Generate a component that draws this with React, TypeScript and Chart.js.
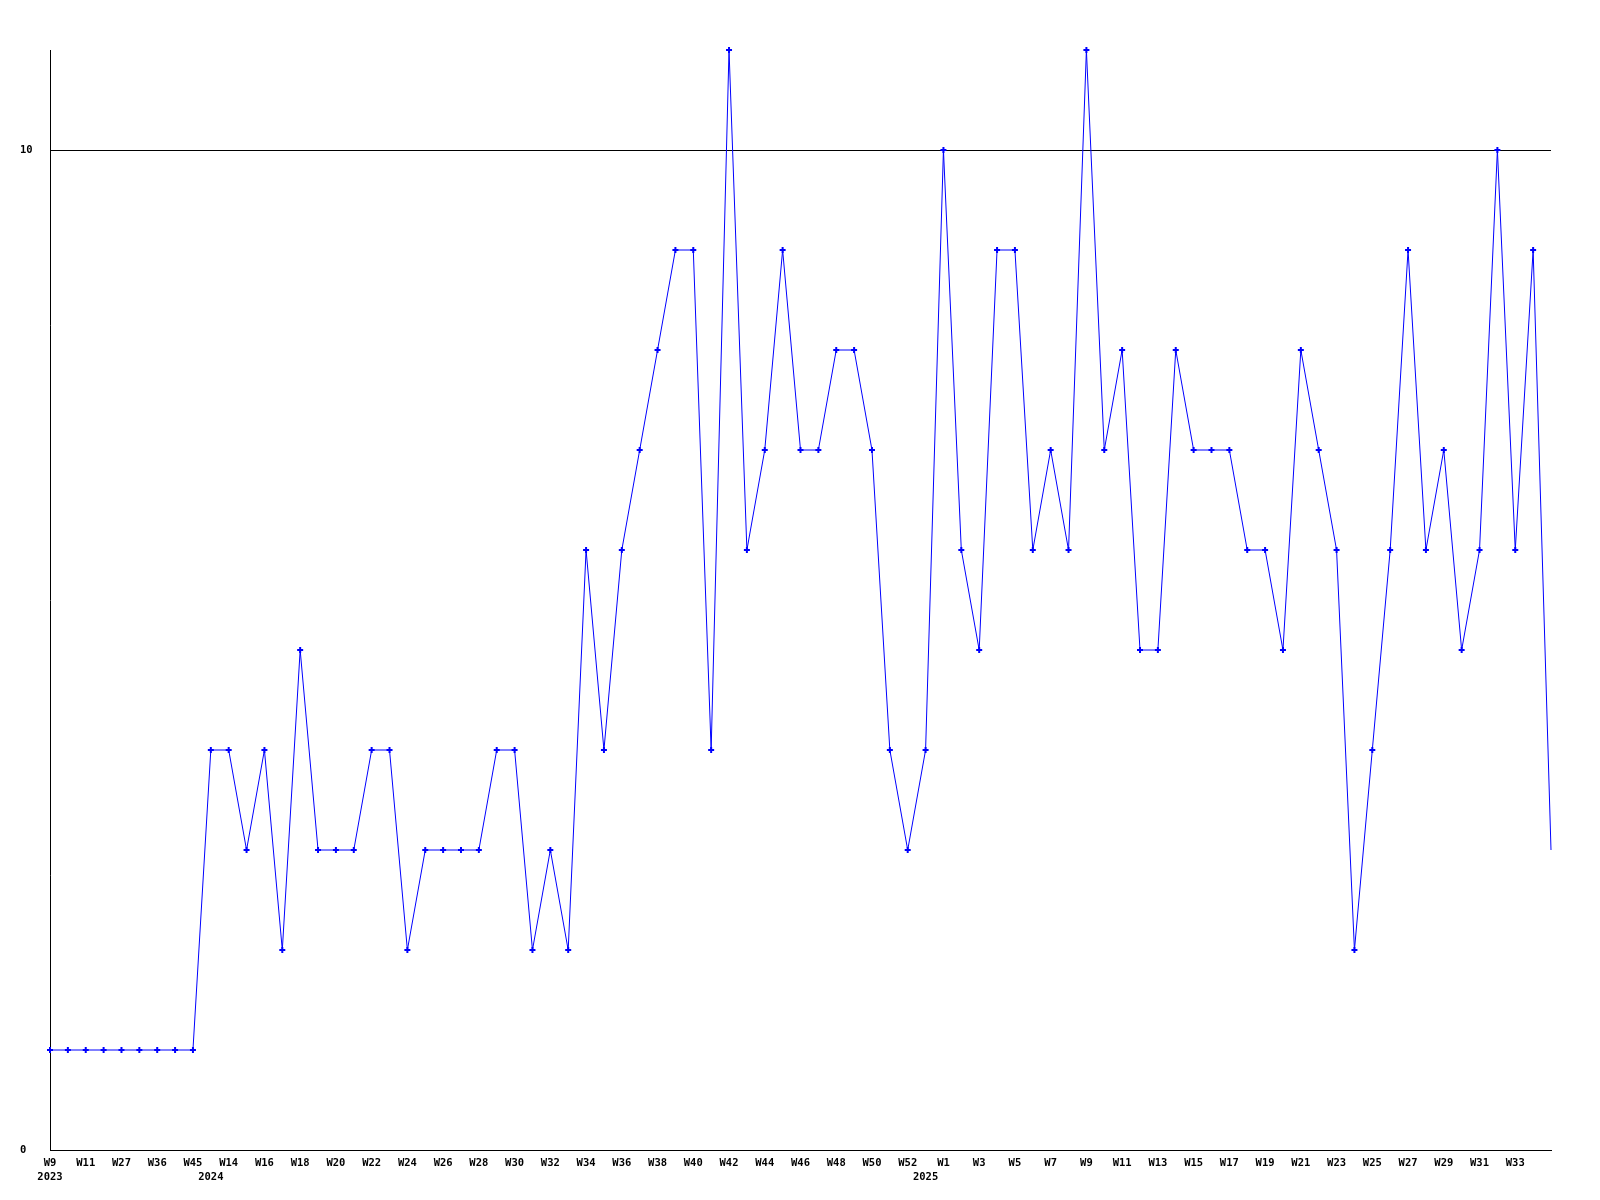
import { useEffect, useRef } from "react";
import { Chart, registerables } from "chart.js";

Chart.register(...registerables);

const weeks: string[] = [
  "W9", "W10", "W11", "W20", "W27", "W30", "W36", "W40", "W45", "W13",
  "W14", "W15", "W16", "W17", "W18", "W19", "W20", "W21", "W22", "W23",
  "W24", "W25", "W26", "W27", "W28", "W29", "W30", "W31", "W32", "W33",
  "W34", "W35", "W36", "W37", "W38", "W39", "W40", "W41", "W42", "W43",
  "W44", "W45", "W46", "W47", "W48", "W49", "W50", "W51", "W52", "W53",
  "W1", "W2", "W3", "W4", "W5", "W6", "W7", "W8", "W9", "W10",
  "W11", "W12", "W13", "W14", "W15", "W16", "W17", "W18", "W19", "W20",
  "W21", "W22", "W23", "W24", "W25", "W26", "W27", "W28", "W29", "W30",
  "W31", "W32", "W33", "W34", "W35",
];

const values: number[] = [
  1, 1, 1, 1, 1, 1, 1, 1, 1, 4,
  4, 3, 4, 2, 5, 3, 3, 3, 4, 4,
  2, 3, 3, 3, 3, 4, 4, 2, 3, 2,
  6, 4, 6, 7, 8, 9, 9, 4, 11, 6,
  7, 9, 7, 7, 8, 8, 7, 4, 3, 4,
  10, 6, 5, 9, 9, 6, 7, 6, 11, 7,
  8, 5, 5, 8, 7, 7, 7, 6, 6, 5,
  8, 7, 6, 2, 4, 6, 9, 6, 7, 5,
  6, 10, 6, 9, 3,
];

// year captions shown on the second tick line, keyed by category index
const yearIndex: number[] = [0, 9, 49];
const yearLabels: string[] = ["2023", "2024", "2025"];

const yTicks: number[] = [0, 10];

const FONT = {
  family: '"DejaVu Sans Mono", "Liberation Mono", monospace',
  size: 10.5,
  weight: "bold" as const,
  lineHeight: "14px",
};

export default function App() {
  const ref = useRef<HTMLCanvasElement>(null);

  useEffect(() => {
    if (!ref.current) return;
    const chart = new Chart(ref.current, {
      type: "line",
      data: {
        labels: weeks,
        datasets: [
          {
            data: values,
            borderColor: "#0000ff",
            borderWidth: 1,
            tension: 0,
            pointStyle: "cross",
            pointRadius: values.map((_, i) => (i === values.length - 1 ? 0 : 3)),
            pointBorderWidth: 2,
            pointBorderColor: "#0000ff",
            pointBackgroundColor: "#0000ff",
            clip: 6,
          },
        ],
      },
      options: {
        responsive: false,
        animation: false,
        devicePixelRatio: 1,
        layout: { padding: { left: 20, top: 50, right: 49, bottom: 0 } },
        plugins: {
          legend: { display: false },
          tooltip: { enabled: false },
        },
        scales: {
          x: {
            grid: { display: false, drawTicks: false },
            border: { display: true, color: "#000000", width: 1 },
            ticks: {
              autoSkip: false,
              maxRotation: 0,
              minRotation: 0,
              padding: 6,
              color: "#000000",
              font: FONT,
              callback: (_v: any, i: number) => {
                const top = i % 2 === 0 && i < weeks.length - 1 ? weeks[i] : "";
                const yi = yearIndex.indexOf(i);
                if (yi >= 0) return [top, yearLabels[yi]];
                return top;
              },
            },
            afterFit: (s: any) => {
              s.height = 50;
            },
          },
          y: {
            min: 0,
            max: 11,
            afterBuildTicks: (s: any) => {
              s.ticks = yTicks.map((v) => ({ value: v }));
            },
            grid: { color: "#000000", lineWidth: 1, drawTicks: false },
            border: { display: true, color: "#000000", width: 1 },
            ticks: {
              crossAlign: "far",
              padding: 0,
              color: "#000000",
              font: FONT,
            },
            afterFit: (s: any) => {
              s.width = 30;
            },
          },
        },
      },
    });
    return () => chart.destroy();
  }, []);

  return (
    <div style={{ position: "absolute", left: 0, top: 0, width: 1600, height: 1200, background: "#ffffff" }}>
      <canvas ref={ref} width={1600} height={1200} style={{ display: "block" }} />
    </div>
  );
}
